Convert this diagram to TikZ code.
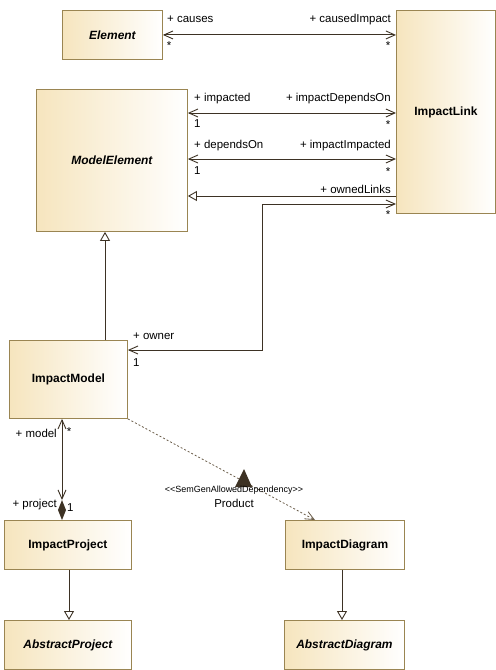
\documentclass[tikz,border=0pt]{standalone}
\usepackage{fontspec}
\setmainfont{Liberation Sans}
\usetikzlibrary{arrows.meta,calc}
\definecolor{boxborder}{HTML}{9A8552}
\definecolor{boxfill}{HTML}{F6E5BE}
\definecolor{linec}{HTML}{3D3224}
\definecolor{depc}{HTML}{6B5E4B}
\begin{document}
\begin{tikzpicture}[x=1bp,y=-1bp,
  cls/.style={draw=boxborder, line width=0.9bp, left color=boxfill, right color=white, anchor=north west, inner sep=0pt, font=\fontsize{12}{14}\selectfont\bfseries},
  abs/.style={cls, font=\fontsize{12}{14}\selectfont\bfseries\itshape},
  lbl/.style={inner sep=0pt, font=\fontsize{11.5}{13}\selectfont, text=black},
  conn/.style={draw=linec, line width=0.9bp},
  assoc/.style={conn, {Straight Barb[length=9bp,width=8bp]}-{Straight Barb[length=9bp,width=8bp]}},
  gen/.style={conn, -{Triangle[open,length=9bp,width=10bp,fill=white]}},
  dep/.style={draw=depc, line width=0.8bp, dash pattern=on 2bp off 2bp, -{Straight Barb[length=9bp,width=8bp]}},
]
\useasboundingbox (0,0) rectangle (496,670);

% classes
\node[abs, minimum width=100bp, minimum height=49bp] (elem) at (62,10) {Element};
\node[cls, minimum width=99bp, minimum height=203bp] (link) at (396,10) {ImpactLink};
\node[abs, minimum width=151bp, minimum height=142bp] (me) at (36,89) {ModelElement};
\node[cls, minimum width=118bp, minimum height=78bp] (im) at (9,340) {ImpactModel};
\node[cls, minimum width=127bp, minimum height=49bp] (ip) at (4,520) {ImpactProject};
\node[cls, minimum width=119bp, minimum height=49bp] (id) at (285,520) {ImpactDiagram};
\node[abs, minimum width=127bp, minimum height=49bp] (ap) at (4,620) {AbstractProject};
\node[abs, minimum width=120bp, minimum height=49bp] (ad) at (284,620) {AbstractDiagram};

% helper coordinates
\coordinate (r1) at (0,113);
\coordinate (r2) at (0,159);
\coordinate (r3) at (0,196);
\coordinate (r4) at (0,204);
\coordinate (r5) at (0,350);
\coordinate (bend) at (262,204);
\coordinate (g1) at (105,0);
\coordinate (g2) at (69,0);
\coordinate (g3) at (342,0);
\coordinate (g4) at (62,0);
\coordinate (g5) at (315,0);
\coordinate (dtop) at (62,500);

% associations
\draw[assoc] (elem.east) -- (elem.east -| link.west);
\draw[assoc] (me.east |- r1) -- (link.west |- r1);
\draw[assoc] (me.east |- r2) -- (link.west |- r2);
\draw[gen] (link.west |- r3) -- (me.east |- r3);
\draw[assoc] (link.west |- r4) -- (bend) |- (im.east |- r5);

% generalizations
\draw[gen] (im.north -| g1) -- (me.south -| g1);
\draw[gen] (ip.south -| g2) -- (ap.north -| g2);
\draw[gen] (id.south -| g3) -- (ad.north -| g3);

% composition model/project
\draw[assoc] (im.south -| g4) -- (dtop);
\fill[linec] (dtop) -- ++(4,10) -- (ip.north -| g4) -- ++(-4,-10) -- cycle;

% dependency
\draw[dep] (im.south east) -- (id.north -| g5);
\fill[linec] (244,469) -- (252,487) -- (235,487) -- cycle;

% labels
\node[lbl, anchor=base west] at (167,23) {+ causes};
\node[lbl, anchor=base east] at (391,23) {+ causedImpact};
\node[lbl, anchor=base] at (169,50) {*};
\node[lbl, anchor=base] at (388,50) {*};
\node[lbl, anchor=base west] at (194,102) {+ impacted};
\node[lbl, anchor=base east] at (391,102) {+ impactDependsOn};
\node[lbl, anchor=base west] at (194,128) {1};
\node[lbl, anchor=base] at (388,129) {*};
\node[lbl, anchor=base west] at (194,148) {+ dependsOn};
\node[lbl, anchor=base east] at (391,148) {+ impactImpacted};
\node[lbl, anchor=base west] at (194,174) {1};
\node[lbl, anchor=base] at (388,175) {*};
\node[lbl, anchor=base east] at (391,193) {+ ownedLinks};
\node[lbl, anchor=base] at (388,218) {*};
\node[lbl, anchor=base west] at (133,339) {+ owner};
\node[lbl, anchor=base west] at (133,366) {1};
\node[lbl, anchor=base east] at (57,437) {+ model};
\node[lbl, anchor=base] at (69,435) {*};
\node[lbl, anchor=base east] at (57,507) {+ project};
\node[lbl, anchor=base west] at (67,511) {1};
\node[lbl, anchor=base, font=\fontsize{9}{10}\selectfont] at (234,492) {<\kern0pt<SemGenAllowedDependency>\kern0pt>};
\node[lbl, anchor=base] at (234,507) {Product};
\end{tikzpicture}
\end{document}
